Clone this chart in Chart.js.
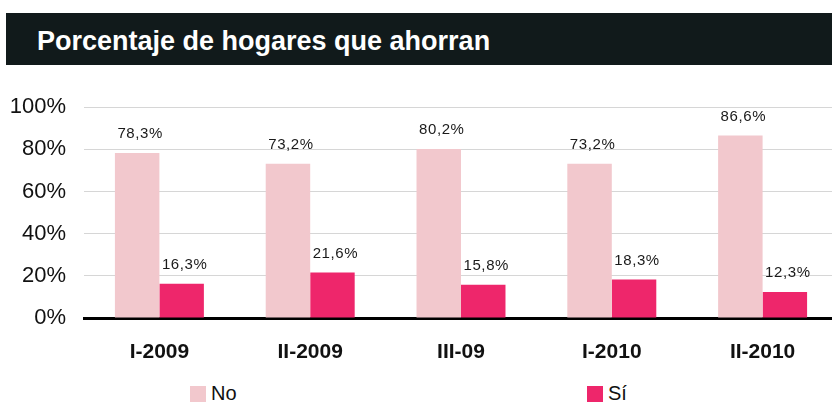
<!DOCTYPE html>
<html>
<head>
<meta charset="utf-8">
<script src="https://cdn.jsdelivr.net/npm/chart.js@4.4.1/dist/chart.umd.min.js"></script>
<style>
  html, body { margin: 0; padding: 0; width: 832px; height: 403px; overflow: hidden; background: #fff; font-family: "Liberation Sans", Arial, sans-serif; }
  #titleBar { position: absolute; left: 6px; top: 13px; width: 826px; height: 52px; background: #111a1b; }
  #titleBar span { position: absolute; left: 31px; top: 13px; color: #fff; font-weight: bold; font-size: 27px; }
  #chartBox { position: absolute; left: 0; top: 76px; width: 838px; height: 300px; }
  .legend { position: absolute; top: 383px; font-size: 20px; color: #111; line-height: 20px; }
  .legend i { display: inline-block; width: 16px; height: 16px; vertical-align: -2px; margin-right: 5px; }
</style>
</head>
<body>
<div id="titleBar"><span>Porcentaje de hogares que ahorran</span></div>
<div id="chartBox"><canvas id="chart"></canvas></div>
<div class="legend" style="left:190px"><i style="background:#f2c8cd"></i>No</div>
<div class="legend" style="left:587px"><i style="background:#ee266b"></i>Sí</div>
<script>
// Periods and values (%)
const periods = ['I-2009', 'II-2009', 'III-09', 'I-2010', 'II-2010'];
const noValues = [78.3, 73.2, 80.2, 73.2, 86.6];
const siValues = [16.3, 21.6, 15.8, 18.3, 12.3];
const yTicks = [0, 20, 40, 60, 80, 100];

// Draws the value labels above each bar
const valueLabels = {
    id: 'valueLabels',
    afterDatasetsDraw(chart) {
        const ctx = chart.ctx;
        ctx.save();
        ctx.font = '15px "Liberation Sans", Arial, sans-serif';
        ctx.letterSpacing = '0.6px';
        ctx.fillStyle = '#1a1a1a';
        ctx.textAlign = 'center';
        ctx.textBaseline = 'middle';
        chart.data.datasets.forEach(function(ds, i) {
            chart.getDatasetMeta(i).data.forEach(function(bar, j) {
                const txt = ds.data[j].toFixed(1).replace('.', ',') + '%';
                ctx.fillText(txt, bar.x + 3, bar.y - 19);
            });
        });
        ctx.restore();
    }
};

const ctx = document.getElementById('chart').getContext('2d');
new Chart(ctx, {
    type: 'bar',
    data: {
        labels: periods,
        datasets: [
            { label: 'No', data: noValues, backgroundColor: '#f2c8cd' },
            { label: 'Sí', data: siValues, backgroundColor: '#ee266b' }
        ]
    },
    options: {
        responsive: true,
        maintainAspectRatio: false,
        animation: false,
        layout: { padding: { top: 10, right: 0, left: 0, bottom: 0 } },
        datasets: { bar: { barPercentage: 1, categoryPercentage: 0.59 } },
        plugins: { legend: { display: false }, tooltip: { enabled: false } },
        scales: {
            x: {
                grid: { display: false },
                border: { display: true, color: '#000', width: 3 },
                ticks: {
                    color: '#111',
                    padding: 14,
                    font: { family: '"Liberation Sans", Arial, sans-serif', size: 21, weight: 'bold' }
                },
                afterFit: function(scale) { scale.height = 58; }
            },
            y: {
                min: 0,
                max: 100,
                afterBuildTicks: function(scale) {
                    scale.ticks = yTicks.map(v => ({ value: v }));
                },
                grid: {
                    color: function(c) { return c.tick && c.tick.value === 0 ? 'rgba(0,0,0,0)' : '#d6d6d6'; },
                    drawTicks: false
                },
                border: { display: false },
                ticks: {
                    color: '#111',
                    padding: 18,
                    font: { family: '"Liberation Sans", Arial, sans-serif', size: 22 },
                    callback: function(v) { return v + '%'; }
                },
                afterFit: function(scale) { scale.width = 84; }
            }
        }
    },
    plugins: [valueLabels]
});
</script>
</body>
</html>
